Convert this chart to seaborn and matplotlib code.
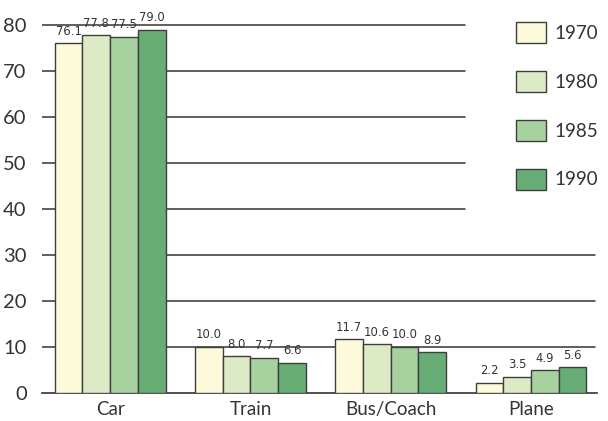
import matplotlib
matplotlib.use("Agg")
import matplotlib.pyplot as plt
import seaborn as sns
import pandas as pd

categories = ["Car", "Train", "Bus/Coach", "Plane"]
years = ["1970", "1980", "1985", "1990"]
v1970 = [76.1, 10.0, 11.7, 2.2]
v1980 = [77.8, 8.0, 10.6, 3.5]
v1985 = [77.5, 7.7, 10.0, 4.9]
v1990 = [79.0, 6.6, 8.9, 5.6]
yticks = [0, 10, 20, 30, 40, 50, 60, 70, 80]
colors = ["#fdfadb", "#dcebc6", "#a8d1a0", "#68ad76"]

rows = []
for yr, vals in zip(years, [v1970, v1980, v1985, v1990]):
    for c, v in zip(categories, vals):
        rows.append({"mode": c, "year": yr, "value": v})
df = pd.DataFrame(rows)

sns.set_style("white")
plt.rcParams['font.family'] = ['Lato', 'DejaVu Sans']

fig = plt.figure(figsize=(6.08, 4.21), dpi=100)
ax = fig.add_axes([42/608, 28/421, 555/608, 386/421])

sns.barplot(data=df, x="mode", y="value", hue="year", order=categories,
            hue_order=years, palette=colors, saturation=1, width=0.79,
            edgecolor="#3e3e3c", linewidth=1.0, ax=ax, zorder=3, legend=True)

ax.set_ylim(0, 84)
ax.set_xlim(-0.486, 3.47)

# gridlines behind bars
for t in yticks[1:]:
    xmax = 0.762 if t >= 40 else 0.996
    ax.axhline(t, xmin=0, xmax=xmax, color="#333331", lw=1.1, zorder=1)

for cont in ax.containers:
    labels = [f"{b.get_height():.1f}" for b in cont]
    ax.bar_label(cont, labels=labels, padding=4, fontsize=9.3,
                 family='DejaVu Sans', fontstretch='condensed', color="#333333")

ax.set_yticks(yticks)
ax.set_yticklabels([str(t) for t in yticks], fontsize=14.5, color="#333333")
ax.tick_params(axis="y", length=0, pad=11)
ax.tick_params(axis="x", length=0, pad=6, labelsize=13.5, labelcolor="#333333")
ax.set_xlabel("")
ax.set_ylabel("")
for s in ["top", "right", "left"]:
    ax.spines[s].set_visible(False)
ax.spines["bottom"].set_color("#333331")
ax.spines["bottom"].set_linewidth(1.2)

handles, labs = ax.get_legend_handles_labels()
leg = ax.legend(handles, labs, loc="upper left",
                bbox_to_anchor=(516/608, 1 - 22/421), bbox_transform=fig.transFigure,
                frameon=False, fontsize=13.5, handlelength=1.6, handleheight=1.33,
                labelspacing=1.5, handletextpad=0.45, borderpad=0, borderaxespad=0)
for t in leg.get_texts():
    t.set_color("#333333")

fig.savefig("out.png", dpi=100, facecolor="white")
